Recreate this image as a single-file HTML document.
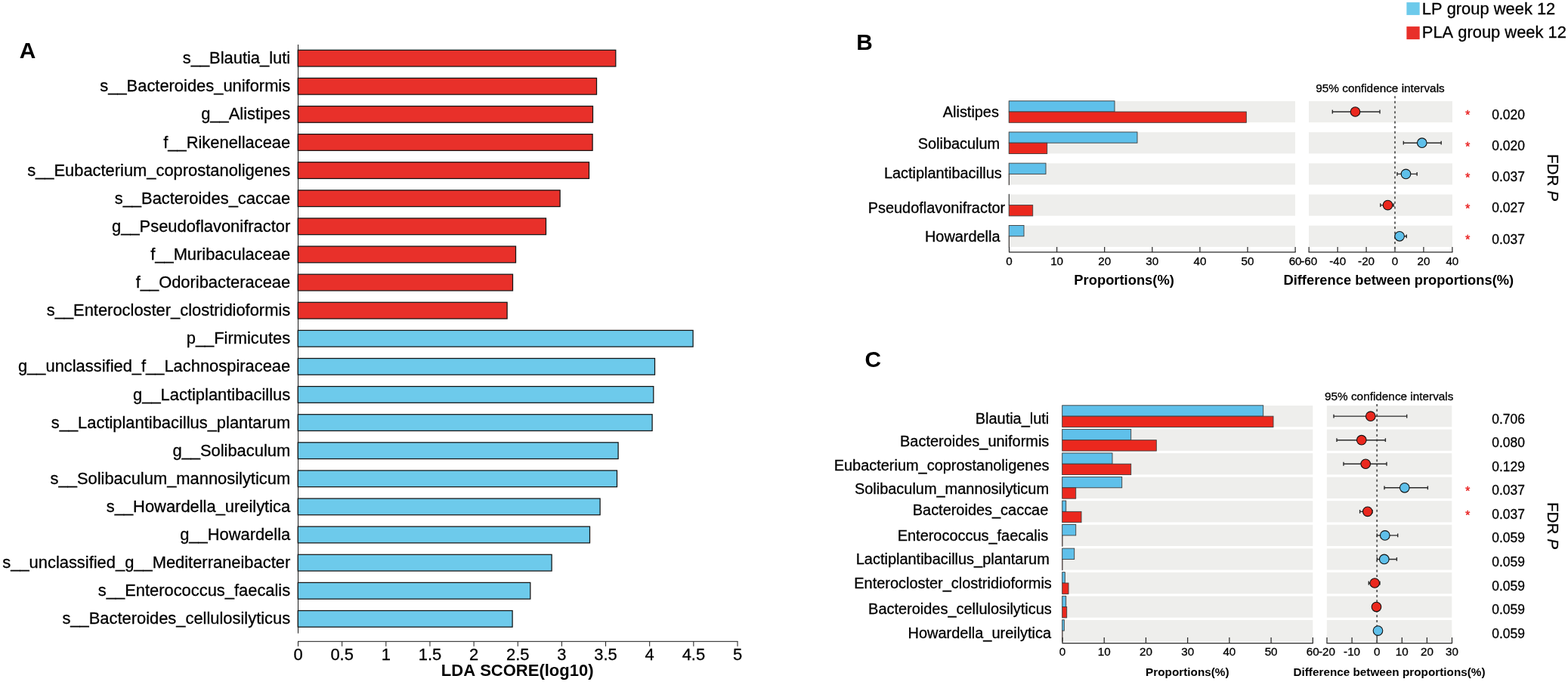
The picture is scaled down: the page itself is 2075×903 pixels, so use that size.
<!DOCTYPE html>
<html lang="en">
<head>
<meta charset="utf-8">
<title>LEfSe LDA scores and differential abundance between LP and PLA groups at week 12</title>
<style>
html,body{margin:0;padding:0;background:#fff;}
body{width:2075px;height:903px;overflow:hidden;}
svg{display:block;}
text{font-family:"Liberation Sans", sans-serif;font-kerning:none;}
</style>
</head>
<body>
<svg width="2075" height="903" viewBox="0 0 2075 903">
<rect width="2075" height="903" fill="#ffffff"/>
<g id="panelA" font-family='"Liberation Sans", sans-serif'>
<text x="25.70" y="76.80" font-size="29.9" text-anchor="start" font-weight="bold" fill="#000">A</text>
<rect x="394.20" y="66.30" width="420.60" height="21.70" fill="#e8302a" stroke="#141414" stroke-width="1.25"/>
<text x="384.20" y="84.20" font-size="21.9" text-anchor="end" font-weight="normal" fill="#000" stroke="#000" stroke-width="0.3">s__Blautia_luti</text>
<rect x="394.20" y="103.41" width="395.30" height="21.70" fill="#e8302a" stroke="#141414" stroke-width="1.25"/>
<text x="384.20" y="121.31" font-size="21.9" text-anchor="end" font-weight="normal" fill="#000" stroke="#000" stroke-width="0.3">s__Bacteroides_uniformis</text>
<rect x="394.20" y="140.52" width="390.30" height="21.70" fill="#e8302a" stroke="#141414" stroke-width="1.25"/>
<text x="384.20" y="158.42" font-size="21.9" text-anchor="end" font-weight="normal" fill="#000" stroke="#000" stroke-width="0.3">g__Alistipes</text>
<rect x="394.20" y="177.63" width="389.90" height="21.70" fill="#e8302a" stroke="#141414" stroke-width="1.25"/>
<text x="384.20" y="195.53" font-size="21.9" text-anchor="end" font-weight="normal" fill="#000" stroke="#000" stroke-width="0.3">f__Rikenellaceae</text>
<rect x="394.20" y="214.74" width="385.30" height="21.70" fill="#e8302a" stroke="#141414" stroke-width="1.25"/>
<text x="384.20" y="232.64" font-size="21.9" text-anchor="end" font-weight="normal" fill="#000" stroke="#000" stroke-width="0.3">s__Eubacterium_coprostanoligenes</text>
<rect x="394.20" y="251.85" width="346.90" height="21.70" fill="#e8302a" stroke="#141414" stroke-width="1.25"/>
<text x="384.20" y="269.75" font-size="21.9" text-anchor="end" font-weight="normal" fill="#000" stroke="#000" stroke-width="0.3">s__Bacteroides_caccae</text>
<rect x="394.20" y="288.96" width="328.30" height="21.70" fill="#e8302a" stroke="#141414" stroke-width="1.25"/>
<text x="384.20" y="306.86" font-size="21.9" text-anchor="end" font-weight="normal" fill="#000" stroke="#000" stroke-width="0.3">g__Pseudoflavonifractor</text>
<rect x="394.20" y="326.07" width="288.30" height="21.70" fill="#e8302a" stroke="#141414" stroke-width="1.25"/>
<text x="384.20" y="343.97" font-size="21.9" text-anchor="end" font-weight="normal" fill="#000" stroke="#000" stroke-width="0.3">f__Muribaculaceae</text>
<rect x="394.20" y="363.18" width="284.30" height="21.70" fill="#e8302a" stroke="#141414" stroke-width="1.25"/>
<text x="384.20" y="381.08" font-size="21.9" text-anchor="end" font-weight="normal" fill="#000" stroke="#000" stroke-width="0.3">f__Odoribacteraceae</text>
<rect x="394.20" y="400.29" width="276.90" height="21.70" fill="#e8302a" stroke="#141414" stroke-width="1.25"/>
<text x="384.20" y="418.19" font-size="21.9" text-anchor="end" font-weight="normal" fill="#000" stroke="#000" stroke-width="0.3">s__Enterocloster_clostridioformis</text>
<rect x="394.20" y="437.40" width="522.90" height="21.70" fill="#6dcaeb" stroke="#141414" stroke-width="1.25"/>
<text x="384.20" y="455.30" font-size="21.9" text-anchor="end" font-weight="normal" fill="#000" stroke="#000" stroke-width="0.3">p__Firmicutes</text>
<rect x="394.20" y="474.51" width="472.30" height="21.70" fill="#6dcaeb" stroke="#141414" stroke-width="1.25"/>
<text x="384.20" y="492.41" font-size="21.9" text-anchor="end" font-weight="normal" fill="#000" stroke="#000" stroke-width="0.3">g__unclassified_f__Lachnospiraceae</text>
<rect x="394.20" y="511.62" width="470.60" height="21.70" fill="#6dcaeb" stroke="#141414" stroke-width="1.25"/>
<text x="384.20" y="529.52" font-size="21.9" text-anchor="end" font-weight="normal" fill="#000" stroke="#000" stroke-width="0.3">g__Lactiplantibacillus</text>
<rect x="394.20" y="548.73" width="468.90" height="21.70" fill="#6dcaeb" stroke="#141414" stroke-width="1.25"/>
<text x="384.20" y="566.63" font-size="21.9" text-anchor="end" font-weight="normal" fill="#000" stroke="#000" stroke-width="0.3">s__Lactiplantibacillus_plantarum</text>
<rect x="394.20" y="585.84" width="423.90" height="21.70" fill="#6dcaeb" stroke="#141414" stroke-width="1.25"/>
<text x="384.20" y="603.74" font-size="21.9" text-anchor="end" font-weight="normal" fill="#000" stroke="#000" stroke-width="0.3">g__Solibaculum</text>
<rect x="394.20" y="622.95" width="422.30" height="21.70" fill="#6dcaeb" stroke="#141414" stroke-width="1.25"/>
<text x="384.20" y="640.85" font-size="21.9" text-anchor="end" font-weight="normal" fill="#000" stroke="#000" stroke-width="0.3">s__Solibaculum_mannosilyticum</text>
<rect x="394.20" y="660.06" width="399.90" height="21.70" fill="#6dcaeb" stroke="#141414" stroke-width="1.25"/>
<text x="384.20" y="677.96" font-size="21.9" text-anchor="end" font-weight="normal" fill="#000" stroke="#000" stroke-width="0.3">s__Howardella_ureilytica</text>
<rect x="394.20" y="697.17" width="386.30" height="21.70" fill="#6dcaeb" stroke="#141414" stroke-width="1.25"/>
<text x="384.20" y="715.07" font-size="21.9" text-anchor="end" font-weight="normal" fill="#000" stroke="#000" stroke-width="0.3">g__Howardella</text>
<rect x="394.20" y="734.28" width="335.90" height="21.70" fill="#6dcaeb" stroke="#141414" stroke-width="1.25"/>
<text x="384.20" y="752.18" font-size="21.9" text-anchor="end" font-weight="normal" fill="#000" stroke="#000" stroke-width="0.3">s__unclassified_g__Mediterraneibacter</text>
<rect x="394.20" y="771.39" width="307.60" height="21.70" fill="#6dcaeb" stroke="#141414" stroke-width="1.25"/>
<text x="384.20" y="789.29" font-size="21.9" text-anchor="end" font-weight="normal" fill="#000" stroke="#000" stroke-width="0.3">s__Enterococcus_faecalis</text>
<rect x="394.20" y="808.50" width="283.90" height="21.70" fill="#6dcaeb" stroke="#141414" stroke-width="1.25"/>
<text x="384.20" y="826.40" font-size="21.9" text-anchor="end" font-weight="normal" fill="#000" stroke="#000" stroke-width="0.3">s__Bacteroides_cellulosilyticus</text>
<line x1="394.5" y1="59" x2="394.5" y2="838.6" stroke="#1a1a1a" stroke-width="1"/>
<line x1="394.0" y1="849.3" x2="976.5" y2="849.3" stroke="#1a1a1a" stroke-width="1"/>
<line x1="394.50" y1="849.3" x2="394.50" y2="855.8" stroke="#1a1a1a" stroke-width="1"/>
<text x="394.50" y="874.30" font-size="21.9" text-anchor="middle" font-weight="normal" fill="#000" stroke="#000" stroke-width="0.3">0</text>
<line x1="452.65" y1="849.3" x2="452.65" y2="855.8" stroke="#1a1a1a" stroke-width="1"/>
<text x="452.65" y="874.30" font-size="21.9" text-anchor="middle" font-weight="normal" fill="#000" stroke="#000" stroke-width="0.3">0.5</text>
<line x1="510.80" y1="849.3" x2="510.80" y2="855.8" stroke="#1a1a1a" stroke-width="1"/>
<text x="510.80" y="874.30" font-size="21.9" text-anchor="middle" font-weight="normal" fill="#000" stroke="#000" stroke-width="0.3">1</text>
<line x1="568.95" y1="849.3" x2="568.95" y2="855.8" stroke="#1a1a1a" stroke-width="1"/>
<text x="568.95" y="874.30" font-size="21.9" text-anchor="middle" font-weight="normal" fill="#000" stroke="#000" stroke-width="0.3">1.5</text>
<line x1="627.10" y1="849.3" x2="627.10" y2="855.8" stroke="#1a1a1a" stroke-width="1"/>
<text x="627.10" y="874.30" font-size="21.9" text-anchor="middle" font-weight="normal" fill="#000" stroke="#000" stroke-width="0.3">2</text>
<line x1="685.25" y1="849.3" x2="685.25" y2="855.8" stroke="#1a1a1a" stroke-width="1"/>
<text x="685.25" y="874.30" font-size="21.9" text-anchor="middle" font-weight="normal" fill="#000" stroke="#000" stroke-width="0.3">2.5</text>
<line x1="743.40" y1="849.3" x2="743.40" y2="855.8" stroke="#1a1a1a" stroke-width="1"/>
<text x="743.40" y="874.30" font-size="21.9" text-anchor="middle" font-weight="normal" fill="#000" stroke="#000" stroke-width="0.3">3</text>
<line x1="801.55" y1="849.3" x2="801.55" y2="855.8" stroke="#1a1a1a" stroke-width="1"/>
<text x="801.55" y="874.30" font-size="21.9" text-anchor="middle" font-weight="normal" fill="#000" stroke="#000" stroke-width="0.3">3.5</text>
<line x1="859.70" y1="849.3" x2="859.70" y2="855.8" stroke="#1a1a1a" stroke-width="1"/>
<text x="859.70" y="874.30" font-size="21.9" text-anchor="middle" font-weight="normal" fill="#000" stroke="#000" stroke-width="0.3">4</text>
<line x1="917.85" y1="849.3" x2="917.85" y2="855.8" stroke="#1a1a1a" stroke-width="1"/>
<text x="917.85" y="874.30" font-size="21.9" text-anchor="middle" font-weight="normal" fill="#000" stroke="#000" stroke-width="0.3">4.5</text>
<line x1="976.00" y1="849.3" x2="976.00" y2="855.8" stroke="#1a1a1a" stroke-width="1"/>
<text x="976.00" y="874.30" font-size="21.9" text-anchor="middle" font-weight="normal" fill="#000" stroke="#000" stroke-width="0.3">5</text>
<text x="684.70" y="895.30" font-size="22" text-anchor="middle" font-weight="bold" fill="#000">LDA SCORE(log10)</text>
</g>
<g id="legend" font-family='"Liberation Sans", sans-serif'>
<rect x="1861.4" y="3.1" width="17.3" height="16.8" fill="#6dcaeb"/>
<text x="1881.80" y="19.20" font-size="21.9" text-anchor="start" font-weight="normal" fill="#000" stroke="#000" stroke-width="0.3">LP group week 12</text>
<rect x="1861.4" y="35.1" width="17.3" height="17" fill="#e8302a"/>
<text x="1881.80" y="50.10" font-size="21.9" text-anchor="start" font-weight="normal" fill="#000" stroke="#000" stroke-width="0.3">PLA group week 12</text>
</g>
<g id="panelB" font-family='"Liberation Sans", sans-serif'>
<text x="1133.30" y="66.40" font-size="29.8" text-anchor="start" font-weight="bold" fill="#000">B</text>
<rect x="1334.50" y="133.90" width="379.50" height="28.20" fill="#eeeeec"/>
<rect x="1732.00" y="133.90" width="190.00" height="28.20" fill="#eeeeec"/>
<rect x="1334.50" y="175.10" width="379.50" height="28.20" fill="#eeeeec"/>
<rect x="1732.00" y="175.10" width="190.00" height="28.20" fill="#eeeeec"/>
<rect x="1334.50" y="216.30" width="379.50" height="28.20" fill="#eeeeec"/>
<rect x="1732.00" y="216.30" width="190.00" height="28.20" fill="#eeeeec"/>
<rect x="1334.50" y="257.50" width="379.50" height="28.20" fill="#eeeeec"/>
<rect x="1732.00" y="257.50" width="190.00" height="28.20" fill="#eeeeec"/>
<rect x="1334.50" y="298.70" width="379.50" height="28.20" fill="#eeeeec"/>
<rect x="1732.00" y="298.70" width="190.00" height="28.20" fill="#eeeeec"/>
<rect x="1335.20" y="133.70" width="139.80" height="14.30" fill="#5fc0ea" stroke="#3c3c3c" stroke-width="0.9"/>
<rect x="1335.20" y="148.00" width="314.10" height="14.30" fill="#eb281e" stroke="#3c3c3c" stroke-width="0.9"/>
<text x="1321.90" y="154.60" font-size="19.9" text-anchor="end" font-weight="normal" fill="#000" stroke="#000" stroke-width="0.3">Alistipes</text>
<rect x="1335.20" y="174.90" width="169.80" height="14.30" fill="#5fc0ea" stroke="#3c3c3c" stroke-width="0.9"/>
<rect x="1335.20" y="189.20" width="50.50" height="14.30" fill="#eb281e" stroke="#3c3c3c" stroke-width="0.9"/>
<text x="1323.10" y="196.90" font-size="19.9" text-anchor="end" font-weight="normal" fill="#000" stroke="#000" stroke-width="0.3">Solibaculum</text>
<rect x="1335.20" y="216.10" width="48.80" height="14.30" fill="#5fc0ea" stroke="#3c3c3c" stroke-width="0.9"/>
<rect x="1335.20" y="230.40" width="0.31" height="14.30" fill="#eb281e" stroke="#3c3c3c" stroke-width="0.9"/>
<text x="1325.80" y="235.60" font-size="19.9" text-anchor="end" font-weight="normal" fill="#000" stroke="#000" stroke-width="0.3">Lactiplantibacillus</text>
<rect x="1335.20" y="257.30" width="0.31" height="14.30" fill="#5fc0ea" stroke="#3c3c3c" stroke-width="0.9"/>
<rect x="1335.20" y="271.60" width="31.50" height="14.30" fill="#eb281e" stroke="#3c3c3c" stroke-width="0.9"/>
<text x="1330.10" y="281.70" font-size="19.9" text-anchor="end" font-weight="normal" fill="#000" stroke="#000" stroke-width="0.3">Pseudoflavonifractor</text>
<rect x="1335.20" y="298.50" width="19.80" height="14.30" fill="#5fc0ea" stroke="#3c3c3c" stroke-width="0.9"/>
<rect x="1335.20" y="312.80" width="0.31" height="14.30" fill="#eb281e" stroke="#3c3c3c" stroke-width="0.9"/>
<text x="1323.50" y="319.60" font-size="19.9" text-anchor="end" font-weight="normal" fill="#000" stroke="#000" stroke-width="0.3">Howardella</text>
<line x1="1335.00" y1="333.9" x2="1714.60" y2="333.9" stroke="#2a2a2a" stroke-width="1.25"/>
<line x1="1335.50" y1="333.9" x2="1335.50" y2="327.0" stroke="#2a2a2a" stroke-width="1.25"/>
<text x="1335.50" y="350.50" font-size="15.2" text-anchor="middle" font-weight="normal" fill="#000" stroke="#000" stroke-width="0.3">0</text>
<line x1="1398.60" y1="333.9" x2="1398.60" y2="327.0" stroke="#2a2a2a" stroke-width="1.25"/>
<text x="1398.60" y="350.50" font-size="15.2" text-anchor="middle" font-weight="normal" fill="#000" stroke="#000" stroke-width="0.3">10</text>
<line x1="1461.70" y1="333.9" x2="1461.70" y2="327.0" stroke="#2a2a2a" stroke-width="1.25"/>
<text x="1461.70" y="350.50" font-size="15.2" text-anchor="middle" font-weight="normal" fill="#000" stroke="#000" stroke-width="0.3">20</text>
<line x1="1524.80" y1="333.9" x2="1524.80" y2="327.0" stroke="#2a2a2a" stroke-width="1.25"/>
<text x="1524.80" y="350.50" font-size="15.2" text-anchor="middle" font-weight="normal" fill="#000" stroke="#000" stroke-width="0.3">30</text>
<line x1="1587.90" y1="333.9" x2="1587.90" y2="327.0" stroke="#2a2a2a" stroke-width="1.25"/>
<text x="1587.90" y="350.50" font-size="15.2" text-anchor="middle" font-weight="normal" fill="#000" stroke="#000" stroke-width="0.3">40</text>
<line x1="1651.00" y1="333.9" x2="1651.00" y2="327.0" stroke="#2a2a2a" stroke-width="1.25"/>
<text x="1651.00" y="350.50" font-size="15.2" text-anchor="middle" font-weight="normal" fill="#000" stroke="#000" stroke-width="0.3">50</text>
<line x1="1714.10" y1="333.9" x2="1714.10" y2="327.0" stroke="#2a2a2a" stroke-width="1.25"/>
<text x="1714.10" y="350.50" font-size="15.2" text-anchor="middle" font-weight="normal" fill="#000" stroke="#000" stroke-width="0.3">60</text>
<line x1="1731.68" y1="333.9" x2="1922.38" y2="333.9" stroke="#2a2a2a" stroke-width="1.25"/>
<line x1="1732.18" y1="333.9" x2="1732.18" y2="327.0" stroke="#2a2a2a" stroke-width="1.25"/>
<text x="1732.18" y="350.50" font-size="15.2" text-anchor="middle" font-weight="normal" fill="#000" stroke="#000" stroke-width="0.3">-60</text>
<line x1="1770.12" y1="333.9" x2="1770.12" y2="327.0" stroke="#2a2a2a" stroke-width="1.25"/>
<text x="1770.12" y="350.50" font-size="15.2" text-anchor="middle" font-weight="normal" fill="#000" stroke="#000" stroke-width="0.3">-40</text>
<line x1="1808.06" y1="333.9" x2="1808.06" y2="327.0" stroke="#2a2a2a" stroke-width="1.25"/>
<text x="1808.06" y="350.50" font-size="15.2" text-anchor="middle" font-weight="normal" fill="#000" stroke="#000" stroke-width="0.3">-20</text>
<line x1="1846.00" y1="333.9" x2="1846.00" y2="327.0" stroke="#2a2a2a" stroke-width="1.25"/>
<text x="1846.00" y="350.50" font-size="15.2" text-anchor="middle" font-weight="normal" fill="#000" stroke="#000" stroke-width="0.3">0</text>
<line x1="1883.94" y1="333.9" x2="1883.94" y2="327.0" stroke="#2a2a2a" stroke-width="1.25"/>
<text x="1883.94" y="350.50" font-size="15.2" text-anchor="middle" font-weight="normal" fill="#000" stroke="#000" stroke-width="0.3">20</text>
<line x1="1921.88" y1="333.9" x2="1921.88" y2="327.0" stroke="#2a2a2a" stroke-width="1.25"/>
<text x="1921.88" y="350.50" font-size="15.2" text-anchor="middle" font-weight="normal" fill="#000" stroke="#000" stroke-width="0.3">40</text>
<line x1="1846.00" y1="127.20" x2="1846.00" y2="333.9" stroke="#555" stroke-width="1.8" stroke-dasharray="3 3.65"/>
<path d="M1763.00 148.00H1826.30M1763.30 145.60v4.8M1826.00 145.60v4.8" stroke="#2a2a2a" stroke-width="1.4" fill="none"/>
<circle cx="1793.50" cy="148.00" r="6.3" fill="#eb281e" stroke="#111" stroke-width="1.1"/>
<text x="1974.30" y="157.70" font-size="17.45" text-anchor="start" font-weight="normal" fill="#000" stroke="#000" stroke-width="0.3">0.020</text>
<text x="1942.30" y="158.40" font-size="15.6" text-anchor="middle" font-weight="normal" fill="#ea2a2a" stroke="#ea2a2a" stroke-width="0.5">*</text>
<path d="M1857.00 189.20H1907.50M1857.30 186.80v4.8M1907.20 186.80v4.8" stroke="#2a2a2a" stroke-width="1.4" fill="none"/>
<circle cx="1881.80" cy="189.20" r="6.3" fill="#5fc0ea" stroke="#111" stroke-width="1.1"/>
<text x="1974.30" y="198.90" font-size="17.45" text-anchor="start" font-weight="normal" fill="#000" stroke="#000" stroke-width="0.3">0.020</text>
<text x="1942.30" y="199.60" font-size="15.6" text-anchor="middle" font-weight="normal" fill="#ea2a2a" stroke="#ea2a2a" stroke-width="0.5">*</text>
<path d="M1848.70 230.40H1875.50M1849.00 228.00v4.8M1875.20 228.00v4.8" stroke="#2a2a2a" stroke-width="1.4" fill="none"/>
<circle cx="1860.50" cy="230.40" r="6.3" fill="#5fc0ea" stroke="#111" stroke-width="1.1"/>
<text x="1974.30" y="240.10" font-size="17.45" text-anchor="start" font-weight="normal" fill="#000" stroke="#000" stroke-width="0.3">0.037</text>
<text x="1942.30" y="240.80" font-size="15.6" text-anchor="middle" font-weight="normal" fill="#ea2a2a" stroke="#ea2a2a" stroke-width="0.5">*</text>
<path d="M1826.50 271.60H1844.50M1826.80 269.20v4.8M1844.20 269.20v4.8" stroke="#2a2a2a" stroke-width="1.4" fill="none"/>
<circle cx="1836.50" cy="271.60" r="6.3" fill="#eb281e" stroke="#111" stroke-width="1.1"/>
<text x="1974.30" y="281.30" font-size="17.45" text-anchor="start" font-weight="normal" fill="#000" stroke="#000" stroke-width="0.3">0.027</text>
<text x="1942.30" y="282.00" font-size="15.6" text-anchor="middle" font-weight="normal" fill="#ea2a2a" stroke="#ea2a2a" stroke-width="0.5">*</text>
<path d="M1846.00 312.80H1861.60M1846.30 310.40v4.8M1861.30 310.40v4.8" stroke="#2a2a2a" stroke-width="1.4" fill="none"/>
<circle cx="1852.10" cy="312.80" r="6.3" fill="#5fc0ea" stroke="#111" stroke-width="1.1"/>
<text x="1974.30" y="322.50" font-size="17.45" text-anchor="start" font-weight="normal" fill="#000" stroke="#000" stroke-width="0.3">0.037</text>
<text x="1942.30" y="323.20" font-size="15.6" text-anchor="middle" font-weight="normal" fill="#ea2a2a" stroke="#ea2a2a" stroke-width="0.5">*</text>
<text x="1741.30" y="122.20" font-size="15.33" text-anchor="start" font-weight="normal" fill="#000" stroke="#000" stroke-width="0.3">95% confidence intervals</text>
<text x="1487.60" y="377.00" font-size="18.35" text-anchor="middle" font-weight="bold" fill="#000">Proportions(%)</text>
<text x="1850.80" y="377.00" font-size="18.35" text-anchor="middle" font-weight="bold" fill="#000">Difference between proportions(%)</text>
<text transform="translate(2047.6,235) rotate(90)" font-size="20.7" text-anchor="middle" stroke="#000" stroke-width="0.3">FDR <tspan font-style="italic">P</tspan></text>
</g>
<g id="panelC" font-family='"Liberation Sans", sans-serif'>
<text x="1144.50" y="485.60" font-size="29.8" text-anchor="start" font-weight="bold" fill="#000">C</text>
<rect x="1405.00" y="537.00" width="332.30" height="28.30" fill="#eeeeec"/>
<rect x="1755.80" y="537.00" width="165.50" height="28.30" fill="#eeeeec"/>
<rect x="1405.00" y="568.55" width="332.30" height="28.30" fill="#eeeeec"/>
<rect x="1755.80" y="568.55" width="165.50" height="28.30" fill="#eeeeec"/>
<rect x="1405.00" y="600.10" width="332.30" height="28.30" fill="#eeeeec"/>
<rect x="1755.80" y="600.10" width="165.50" height="28.30" fill="#eeeeec"/>
<rect x="1405.00" y="631.65" width="332.30" height="28.30" fill="#eeeeec"/>
<rect x="1755.80" y="631.65" width="165.50" height="28.30" fill="#eeeeec"/>
<rect x="1405.00" y="663.20" width="332.30" height="28.30" fill="#eeeeec"/>
<rect x="1755.80" y="663.20" width="165.50" height="28.30" fill="#eeeeec"/>
<rect x="1405.00" y="694.75" width="332.30" height="28.30" fill="#eeeeec"/>
<rect x="1755.80" y="694.75" width="165.50" height="28.30" fill="#eeeeec"/>
<rect x="1405.00" y="726.30" width="332.30" height="28.30" fill="#eeeeec"/>
<rect x="1755.80" y="726.30" width="165.50" height="28.30" fill="#eeeeec"/>
<rect x="1405.00" y="757.85" width="332.30" height="28.30" fill="#eeeeec"/>
<rect x="1755.80" y="757.85" width="165.50" height="28.30" fill="#eeeeec"/>
<rect x="1405.00" y="789.40" width="332.30" height="28.30" fill="#eeeeec"/>
<rect x="1755.80" y="789.40" width="165.50" height="28.30" fill="#eeeeec"/>
<rect x="1405.00" y="820.95" width="332.30" height="28.30" fill="#eeeeec"/>
<rect x="1755.80" y="820.95" width="165.50" height="28.30" fill="#eeeeec"/>
<rect x="1405.70" y="536.80" width="266.00" height="14.35" fill="#5fc0ea" stroke="#3c3c3c" stroke-width="0.9"/>
<rect x="1405.70" y="551.15" width="279.30" height="14.35" fill="#eb281e" stroke="#3c3c3c" stroke-width="0.9"/>
<text x="1388.30" y="560.90" font-size="19.95" text-anchor="end" font-weight="normal" fill="#000" stroke="#000" stroke-width="0.3">Blautia_luti</text>
<rect x="1405.70" y="568.35" width="91.00" height="14.35" fill="#5fc0ea" stroke="#3c3c3c" stroke-width="0.9"/>
<rect x="1405.70" y="582.70" width="124.60" height="14.35" fill="#eb281e" stroke="#3c3c3c" stroke-width="0.9"/>
<text x="1388.30" y="590.70" font-size="19.95" text-anchor="end" font-weight="normal" fill="#000" stroke="#000" stroke-width="0.3">Bacteroides_uniformis</text>
<rect x="1405.70" y="599.90" width="66.30" height="14.35" fill="#5fc0ea" stroke="#3c3c3c" stroke-width="0.9"/>
<rect x="1405.70" y="614.25" width="91.00" height="14.35" fill="#eb281e" stroke="#3c3c3c" stroke-width="0.9"/>
<text x="1388.50" y="623.30" font-size="19.95" text-anchor="end" font-weight="normal" fill="#000" stroke="#000" stroke-width="0.3">Eubacterium_coprostanoligenes</text>
<rect x="1405.70" y="631.45" width="79.00" height="14.35" fill="#5fc0ea" stroke="#3c3c3c" stroke-width="0.9"/>
<rect x="1405.70" y="645.80" width="18.00" height="14.35" fill="#eb281e" stroke="#3c3c3c" stroke-width="0.9"/>
<text x="1388.00" y="653.60" font-size="19.95" text-anchor="end" font-weight="normal" fill="#000" stroke="#000" stroke-width="0.3">Solibaculum_mannosilyticum</text>
<rect x="1405.70" y="663.00" width="5.00" height="14.35" fill="#5fc0ea" stroke="#3c3c3c" stroke-width="0.9"/>
<rect x="1405.70" y="677.35" width="25.30" height="14.35" fill="#eb281e" stroke="#3c3c3c" stroke-width="0.9"/>
<text x="1387.30" y="681.90" font-size="19.95" text-anchor="end" font-weight="normal" fill="#000" stroke="#000" stroke-width="0.3">Bacteroides_caccae</text>
<rect x="1405.70" y="694.55" width="18.00" height="14.35" fill="#5fc0ea" stroke="#3c3c3c" stroke-width="0.9"/>
<rect x="1405.70" y="708.90" width="0.31" height="14.35" fill="#eb281e" stroke="#3c3c3c" stroke-width="0.9"/>
<text x="1387.20" y="715.60" font-size="19.95" text-anchor="end" font-weight="normal" fill="#000" stroke="#000" stroke-width="0.3">Enterococcus_faecalis</text>
<rect x="1405.70" y="726.10" width="16.00" height="14.35" fill="#5fc0ea" stroke="#3c3c3c" stroke-width="0.9"/>
<rect x="1405.70" y="740.45" width="0.31" height="14.35" fill="#eb281e" stroke="#3c3c3c" stroke-width="0.9"/>
<text x="1388.80" y="747.30" font-size="19.95" text-anchor="end" font-weight="normal" fill="#000" stroke="#000" stroke-width="0.3">Lactiplantibacillus_plantarum</text>
<rect x="1405.70" y="757.65" width="3.60" height="14.35" fill="#5fc0ea" stroke="#3c3c3c" stroke-width="0.9"/>
<rect x="1405.70" y="772.00" width="8.30" height="14.35" fill="#eb281e" stroke="#3c3c3c" stroke-width="0.9"/>
<text x="1391.80" y="779.30" font-size="19.95" text-anchor="end" font-weight="normal" fill="#000" stroke="#000" stroke-width="0.3">Enterocloster_clostridioformis</text>
<rect x="1405.70" y="789.20" width="5.00" height="14.35" fill="#5fc0ea" stroke="#3c3c3c" stroke-width="0.9"/>
<rect x="1405.70" y="803.55" width="6.00" height="14.35" fill="#eb281e" stroke="#3c3c3c" stroke-width="0.9"/>
<text x="1391.80" y="813.00" font-size="19.95" text-anchor="end" font-weight="normal" fill="#000" stroke="#000" stroke-width="0.3">Bacteroides_cellulosilyticus</text>
<rect x="1405.70" y="820.75" width="2.60" height="14.35" fill="#5fc0ea" stroke="#3c3c3c" stroke-width="0.9"/>
<rect x="1405.70" y="835.10" width="0.31" height="14.35" fill="#eb281e" stroke="#3c3c3c" stroke-width="0.9"/>
<text x="1391.10" y="844.70" font-size="19.95" text-anchor="end" font-weight="normal" fill="#000" stroke="#000" stroke-width="0.3">Howardella_ureilytica</text>
<line x1="1405.50" y1="851.5" x2="1737.82" y2="851.5" stroke="#2a2a2a" stroke-width="1.25"/>
<line x1="1406.00" y1="851.5" x2="1406.00" y2="844.0" stroke="#2a2a2a" stroke-width="1.25"/>
<text x="1406.00" y="868.00" font-size="15.2" text-anchor="middle" font-weight="normal" fill="#000" stroke="#000" stroke-width="0.3">0</text>
<line x1="1461.22" y1="851.5" x2="1461.22" y2="844.0" stroke="#2a2a2a" stroke-width="1.25"/>
<text x="1461.22" y="868.00" font-size="15.2" text-anchor="middle" font-weight="normal" fill="#000" stroke="#000" stroke-width="0.3">10</text>
<line x1="1516.44" y1="851.5" x2="1516.44" y2="844.0" stroke="#2a2a2a" stroke-width="1.25"/>
<text x="1516.44" y="868.00" font-size="15.2" text-anchor="middle" font-weight="normal" fill="#000" stroke="#000" stroke-width="0.3">20</text>
<line x1="1571.66" y1="851.5" x2="1571.66" y2="844.0" stroke="#2a2a2a" stroke-width="1.25"/>
<text x="1571.66" y="868.00" font-size="15.2" text-anchor="middle" font-weight="normal" fill="#000" stroke="#000" stroke-width="0.3">30</text>
<line x1="1626.88" y1="851.5" x2="1626.88" y2="844.0" stroke="#2a2a2a" stroke-width="1.25"/>
<text x="1626.88" y="868.00" font-size="15.2" text-anchor="middle" font-weight="normal" fill="#000" stroke="#000" stroke-width="0.3">40</text>
<line x1="1682.10" y1="851.5" x2="1682.10" y2="844.0" stroke="#2a2a2a" stroke-width="1.25"/>
<text x="1682.10" y="868.00" font-size="15.2" text-anchor="middle" font-weight="normal" fill="#000" stroke="#000" stroke-width="0.3">50</text>
<line x1="1737.32" y1="851.5" x2="1737.32" y2="844.0" stroke="#2a2a2a" stroke-width="1.25"/>
<text x="1737.32" y="868.00" font-size="15.2" text-anchor="middle" font-weight="normal" fill="#000" stroke="#000" stroke-width="0.3">60</text>
<line x1="1755.50" y1="851.5" x2="1922.00" y2="851.5" stroke="#2a2a2a" stroke-width="1.25"/>
<line x1="1756.00" y1="851.5" x2="1756.00" y2="844.0" stroke="#2a2a2a" stroke-width="1.25"/>
<text x="1756.00" y="868.00" font-size="15.2" text-anchor="middle" font-weight="normal" fill="#000" stroke="#000" stroke-width="0.3">-20</text>
<line x1="1789.10" y1="851.5" x2="1789.10" y2="844.0" stroke="#2a2a2a" stroke-width="1.25"/>
<text x="1789.10" y="868.00" font-size="15.2" text-anchor="middle" font-weight="normal" fill="#000" stroke="#000" stroke-width="0.3">-10</text>
<line x1="1822.20" y1="851.5" x2="1822.20" y2="844.0" stroke="#2a2a2a" stroke-width="1.25"/>
<text x="1822.20" y="868.00" font-size="15.2" text-anchor="middle" font-weight="normal" fill="#000" stroke="#000" stroke-width="0.3">0</text>
<line x1="1855.30" y1="851.5" x2="1855.30" y2="844.0" stroke="#2a2a2a" stroke-width="1.25"/>
<text x="1855.30" y="868.00" font-size="15.2" text-anchor="middle" font-weight="normal" fill="#000" stroke="#000" stroke-width="0.3">10</text>
<line x1="1888.40" y1="851.5" x2="1888.40" y2="844.0" stroke="#2a2a2a" stroke-width="1.25"/>
<text x="1888.40" y="868.00" font-size="15.2" text-anchor="middle" font-weight="normal" fill="#000" stroke="#000" stroke-width="0.3">20</text>
<line x1="1921.50" y1="851.5" x2="1921.50" y2="844.0" stroke="#2a2a2a" stroke-width="1.25"/>
<text x="1921.50" y="868.00" font-size="15.2" text-anchor="middle" font-weight="normal" fill="#000" stroke="#000" stroke-width="0.3">30</text>
<line x1="1822.20" y1="535.00" x2="1822.20" y2="851.5" stroke="#555" stroke-width="1.8" stroke-dasharray="3 3.65"/>
<path d="M1764.70 551.15H1862.00M1765.00 548.75v4.8M1861.70 548.75v4.8" stroke="#2a2a2a" stroke-width="1.4" fill="none"/>
<circle cx="1813.80" cy="551.15" r="6.3" fill="#eb281e" stroke="#111" stroke-width="1.1"/>
<text x="1974.30" y="560.65" font-size="17.45" text-anchor="start" font-weight="normal" fill="#000" stroke="#000" stroke-width="0.3">0.706</text>
<path d="M1768.70 582.70H1833.70M1769.00 580.30v4.8M1833.40 580.30v4.8" stroke="#2a2a2a" stroke-width="1.4" fill="none"/>
<circle cx="1801.80" cy="582.70" r="6.3" fill="#eb281e" stroke="#111" stroke-width="1.1"/>
<text x="1974.30" y="592.20" font-size="17.45" text-anchor="start" font-weight="normal" fill="#000" stroke="#000" stroke-width="0.3">0.080</text>
<path d="M1777.70 614.25H1835.30M1778.00 611.85v4.8M1835.00 611.85v4.8" stroke="#2a2a2a" stroke-width="1.4" fill="none"/>
<circle cx="1807.20" cy="614.25" r="6.3" fill="#eb281e" stroke="#111" stroke-width="1.1"/>
<text x="1974.30" y="623.75" font-size="17.45" text-anchor="start" font-weight="normal" fill="#000" stroke="#000" stroke-width="0.3">0.129</text>
<path d="M1831.70 645.80H1889.70M1832.00 643.40v4.8M1889.40 643.40v4.8" stroke="#2a2a2a" stroke-width="1.4" fill="none"/>
<circle cx="1858.80" cy="645.80" r="6.3" fill="#5fc0ea" stroke="#111" stroke-width="1.1"/>
<text x="1974.30" y="655.30" font-size="17.45" text-anchor="start" font-weight="normal" fill="#000" stroke="#000" stroke-width="0.3">0.037</text>
<text x="1942.30" y="656.10" font-size="15.6" text-anchor="middle" font-weight="normal" fill="#ea2a2a" stroke="#ea2a2a" stroke-width="0.5">*</text>
<path d="M1799.30 677.35H1816.30M1799.60 674.95v4.8M1816.00 674.95v4.8" stroke="#2a2a2a" stroke-width="1.4" fill="none"/>
<circle cx="1809.80" cy="677.35" r="6.3" fill="#eb281e" stroke="#111" stroke-width="1.1"/>
<text x="1974.30" y="686.85" font-size="17.45" text-anchor="start" font-weight="normal" fill="#000" stroke="#000" stroke-width="0.3">0.037</text>
<text x="1942.30" y="687.65" font-size="15.6" text-anchor="middle" font-weight="normal" fill="#ea2a2a" stroke="#ea2a2a" stroke-width="0.5">*</text>
<path d="M1822.00 708.90H1850.00M1822.30 706.50v4.8M1849.70 706.50v4.8" stroke="#2a2a2a" stroke-width="1.4" fill="none"/>
<circle cx="1832.80" cy="708.90" r="6.3" fill="#5fc0ea" stroke="#111" stroke-width="1.1"/>
<text x="1974.30" y="718.40" font-size="17.45" text-anchor="start" font-weight="normal" fill="#000" stroke="#000" stroke-width="0.3">0.059</text>
<path d="M1822.00 740.45H1848.70M1822.30 738.05v4.8M1848.40 738.05v4.8" stroke="#2a2a2a" stroke-width="1.4" fill="none"/>
<circle cx="1831.80" cy="740.45" r="6.3" fill="#5fc0ea" stroke="#111" stroke-width="1.1"/>
<text x="1974.30" y="749.95" font-size="17.45" text-anchor="start" font-weight="normal" fill="#000" stroke="#000" stroke-width="0.3">0.059</text>
<path d="M1811.00 772.00H1826.30M1811.30 769.60v4.8M1826.00 769.60v4.8" stroke="#2a2a2a" stroke-width="1.4" fill="none"/>
<circle cx="1819.20" cy="772.00" r="6.3" fill="#eb281e" stroke="#111" stroke-width="1.1"/>
<text x="1974.30" y="781.50" font-size="17.45" text-anchor="start" font-weight="normal" fill="#000" stroke="#000" stroke-width="0.3">0.059</text>
<circle cx="1821.50" cy="803.55" r="6.3" fill="#eb281e" stroke="#111" stroke-width="1.1"/>
<text x="1974.30" y="813.05" font-size="17.45" text-anchor="start" font-weight="normal" fill="#000" stroke="#000" stroke-width="0.3">0.059</text>
<circle cx="1823.50" cy="835.10" r="6.3" fill="#5fc0ea" stroke="#111" stroke-width="1.1"/>
<text x="1974.30" y="844.60" font-size="17.45" text-anchor="start" font-weight="normal" fill="#000" stroke="#000" stroke-width="0.3">0.059</text>
<text x="1753.00" y="529.90" font-size="15.33" text-anchor="start" font-weight="normal" fill="#000" stroke="#000" stroke-width="0.3">95% confidence intervals</text>
<text x="1571.30" y="894.90" font-size="15.3" text-anchor="middle" font-weight="bold" fill="#000">Proportions(%)</text>
<text x="1838.50" y="894.90" font-size="15.3" text-anchor="middle" font-weight="bold" fill="#000">Difference between proportions(%)</text>
<text transform="translate(2047.6,696) rotate(90)" font-size="20.7" text-anchor="middle" stroke="#000" stroke-width="0.3">FDR <tspan font-style="italic">P</tspan></text>
</g>
</svg>
</body>
</html>
